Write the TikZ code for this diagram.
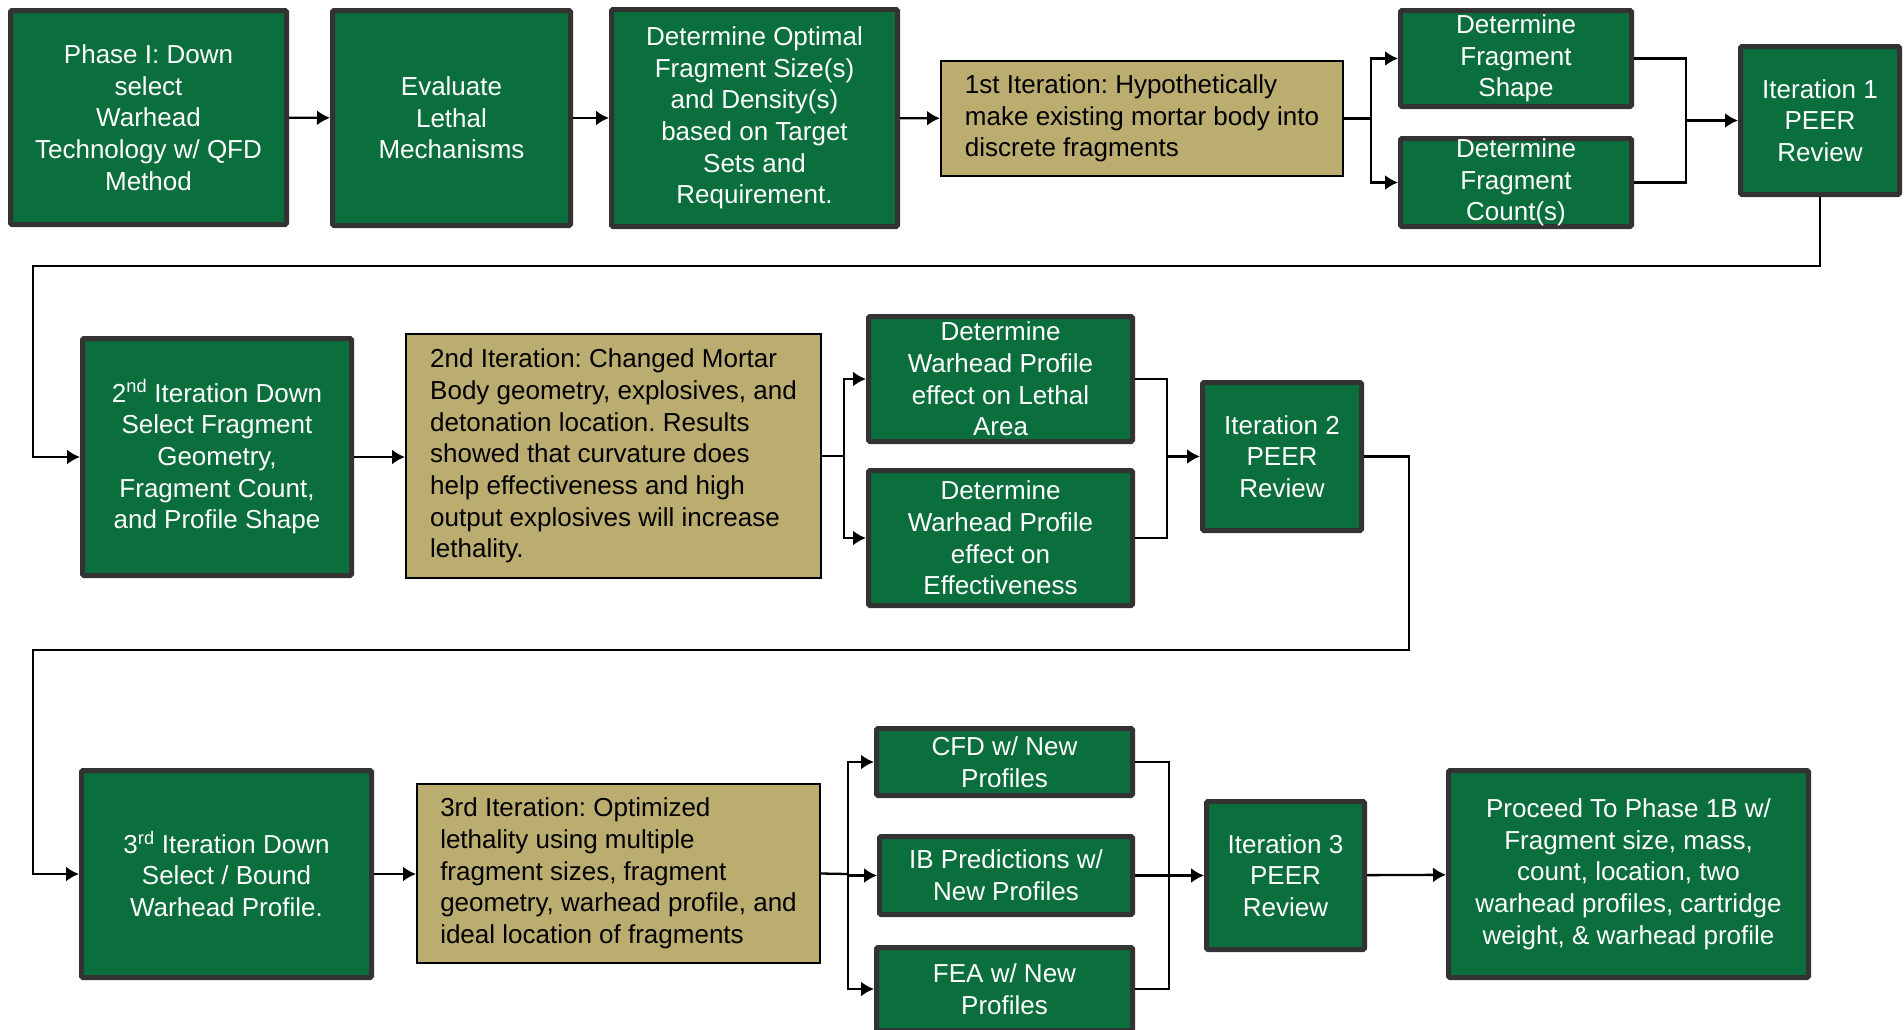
\documentclass[tikz,border=0pt]{standalone}
\usepackage{fontspec}
\setmainfont{Liberation Sans}
\usepackage{tikz}
\usetikzlibrary{arrows.meta}
\usepackage{xcolor}
\definecolor{boxgreen}{RGB}{11,110,61}
\definecolor{boxedge}{RGB}{51,51,51}
\definecolor{boxtan}{RGB}{187,172,112}
\newcommand{\boxfont}{\fontsize{26}{31.7}\selectfont\frenchspacing}

\begin{document}
\begin{tikzpicture}[x = 1pt, y = -1pt,
    greenbox/.style = {draw = boxedge, line width = 5pt, fill = boxgreen, text = white, align = center, inner xsep = 6pt, inner ysep = 0pt, rounded corners = 1.5pt, font = \boxfont},
    tanbox/.style = {draw = black, line width = 2pt, fill = boxtan, text = black, align = left, inner sep = 0pt, font = \boxfont},
    flow/.style = {line width = 2.3pt, -{Latex[length = 13pt, width = 15pt]}},
    link/.style = {line width = 2.3pt}]
    % Cornice
    \useasboundingbox (0,0) rectangle (1904,1029);
    \clip (0,0) rectangle (1904,1029);

    % Prima riga
    \node[greenbox, minimum width = 276pt, minimum height = 214pt] (phase) at (148.5,117.5) {Phase I: Down\\select\\Warhead\\Technology w/ QFD\\Method};
    \node[greenbox, minimum width = 238pt, minimum height = 215pt] (evaluate) at (451.5,118) {Evaluate\\Lethal\\Mechanisms};
    \node[greenbox, minimum width = 286pt, minimum height = 217pt] (optimal) at (754.5,118) {Determine Optimal\\Fragment Size(s)\\and Density(s)\\based on Target\\Sets and\\Requirement.};
    \node[tanbox, minimum width = 402pt, minimum height = 115pt] (iterone) at (1142,118.5) {1st Iteration: Hypothetically\\make existing mortar body into\\discrete fragments};
    \node[greenbox, minimum width = 231pt, minimum height = 96pt] (shape) at (1516,58.5) {Determine\\Fragment\\Shape};
    \node[greenbox, minimum width = 231pt, minimum height = 88pt] (count) at (1516,182.5) {Determine\\Fragment\\Count(s)};
    \node[greenbox, minimum width = 159pt, minimum height = 148pt] (peerone) at (1820,120.5) {Iteration 1\\PEER\\Review};

    % Seconda riga
    \node[greenbox, minimum width = 269pt, minimum height = 237pt] (downtwo) at (217,457) {2\textsuperscript{nd} Iteration Down\\Select Fragment\\Geometry,\\Fragment Count,\\and Profile Shape};
    \node[tanbox, minimum width = 415pt, minimum height = 244pt] (itertwo) at (613.5,456) {2nd Iteration: Changed Mortar\\Body geometry, explosives, and\\detonation location. Results\\showed that curvature does\\help effectiveness and high\\output explosives will increase\\lethality.};
    \node[greenbox, minimum width = 264pt, minimum height = 125pt] (lethal) at (1000.5,379) {Determine\\Warhead Profile\\effect on Lethal\\Area};
    \node[greenbox, minimum width = 264pt, minimum height = 135pt] (effect) at (1000.5,538) {Determine\\Warhead Profile\\effect on\\Effectiveness};
    \node[greenbox, minimum width = 159pt, minimum height = 148pt] (peertwo) at (1282,456.5) {Iteration 2\\PEER\\Review};

    % Terza riga
    \node[greenbox, minimum width = 290pt, minimum height = 207pt] (downthree) at (226.5,874) {3\textsuperscript{rd} Iteration Down\\Select / Bound\\Warhead Profile.};
    \node[tanbox, minimum width = 403pt, minimum height = 179pt] (iterthree) at (618.5,873.5) {3rd Iteration: Optimized\\lethality using multiple\\fragment sizes, fragment\\geometry, warhead profile, and\\ideal location of fragments};
    \node[greenbox, minimum width = 256pt, minimum height = 67pt] (cfd) at (1004.5,762) {CFD w/ New\\Profiles};
    \node[greenbox, minimum width = 253pt, minimum height = 78pt] (ib) at (1006,875.5) {IB Predictions w/\\New Profiles};
    \node[greenbox, minimum width = 256pt, minimum height = 83pt] (fea) at (1004.5,989) {FEA w/ New\\Profiles};
    \node[greenbox, minimum width = 158pt, minimum height = 148pt] (peerthree) at (1285.5,875.5) {Iteration 3\\PEER\\Review};
    \node[greenbox, minimum width = 360pt, minimum height = 207pt] (proceed) at (1628.5,874) {Proceed To Phase 1B w/\\Fragment size, mass,\\count, location, two\\warhead profiles, cartridge\\weight, \& warhead profile};

    % Punti di snodo
    \coordinate (splitA) at (1371,118.5);
    \coordinate (joinA) at (1686,120.5);
    \coordinate (loopA) at (33,266);
    \coordinate (splitB) at (844,456);
    \coordinate (joinB) at (1167,456.5);
    \coordinate (loopB) at (1409,650);
    \coordinate (loopC) at (33,650);
    \coordinate (splitC) at (848,874);
    \coordinate (joinC) at (1169,875.5);

    % Frecce prima riga
    \draw[flow] (phase) -- (evaluate);
    \draw[flow] (evaluate) -- (optimal);
    \draw[flow] (optimal) -- (iterone);
    \draw[link] (iterone.east) -- (splitA);
    \draw[flow] (splitA) |- (shape.west);
    \draw[flow] (splitA) |- (count.west);
    \draw[link] (shape.east) -| (joinA);
    \draw[link] (count.east) -| (joinA);
    \draw[flow] (joinA) -- (peerone);
    \draw[flow] (peerone.south) |- (loopA) |- (downtwo.west);

    % Frecce seconda riga
    \draw[flow] (downtwo.east) -- (downtwo.east -| itertwo.west);
    \draw[link] (itertwo.east) -- (splitB);
    \draw[flow] (splitB) |- (lethal.west);
    \draw[flow] (splitB) |- (effect.west);
    \draw[link] (lethal.east) -| (joinB);
    \draw[link] (effect.east) -| (joinB);
    \draw[flow] (joinB) -- (peertwo);
    \draw[flow] (peertwo.east) -| (loopB) -- (loopC) |- (downthree.west);

    % Frecce terza riga
    \draw[flow] (downthree.east) -- (downthree.east -| iterthree.west);
    \draw[link] (iterthree.east) -- (splitC);
    \draw[flow] (splitC) |- (cfd.west);
    \draw[flow] (splitC) |- (ib.west);
    \draw[flow] (splitC) |- (fea.west);
    \draw[link] (cfd.east) -| (joinC);
    \draw[link] (fea.east) -| (joinC);
    \draw[link] (ib.east) -- (joinC);
    \draw[flow] (joinC) -- (peerthree);
    \draw[flow] (peerthree) -- (proceed);
\end{tikzpicture}
\end{document}
